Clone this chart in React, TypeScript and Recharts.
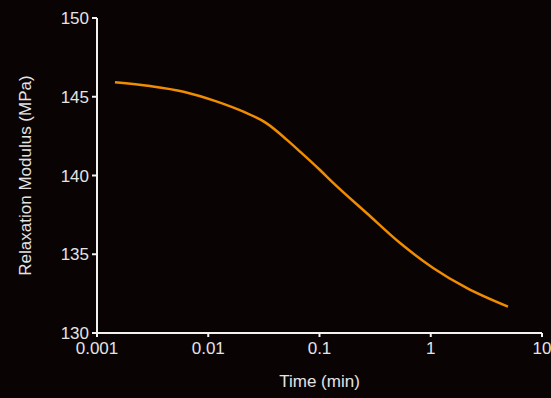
import React from 'react';
import { LineChart, Line, XAxis, YAxis } from 'recharts';

// (log time axis)
const timeMin = [0.00145, 0.003, 0.006, 0.012, 0.0207, 0.0335, 0.0507, 0.0668, 0.101, 0.132, 0.265, 0.53, 1.05, 2.1, 4.94];
const modulusMPa = [145.92, 145.68, 145.32, 144.69, 144.05, 143.31, 142.28, 141.52, 140.35, 139.55, 137.62, 135.71, 134.13, 132.86, 131.67];
const xTicks = [0.001, 0.01, 0.1, 1, 10];
const yTicks = [130, 135, 140, 145, 150];

const data = timeMin.map((t, i) => ({ t, g: modulusMPa[i] }));

const FONT = '"Liberation Sans", Arial, sans-serif';
const TEXT = '#e4e4e4';
const AXIS = '#f2f2f2';

const YLabel = ({ viewBox }: any) => {
  const cy = viewBox.y + viewBox.height / 2;
  return (
    <text x={25} y={cy} transform={`rotate(-90, 25, ${cy})`} textAnchor="middle"
      dominantBaseline="central" fill={TEXT} fontSize={17} fontFamily={FONT}>
      Relaxation Modulus (MPa)
    </text>
  );
};

export default function App() {
  return (
    <div style={{ position: 'absolute', left: 0, top: 0, width: 551, height: 398, background: '#0a0304' }}>
      <LineChart width={551} height={398} data={data} margin={{ top: 18, right: 9, bottom: 0, left: 0 }}>
        <XAxis
          dataKey="t"
          type="number"
          scale="log"
          domain={[0.001, 10]}
          ticks={xTicks}
          tickFormatter={(v: number) => String(v)}
          allowDataOverflow
          height={65}
          stroke={AXIS}
          strokeWidth={2}
          tickSize={4}
          tickMargin={5}
          tick={{ fill: TEXT, fontSize: 17, fontFamily: FONT }}
          label={{ value: 'Time (min)', position: 'insideBottom', offset: 11, fill: TEXT, fontSize: 17, fontFamily: FONT }}
        />
        <YAxis
          type="number"
          domain={[130, 150]}
          ticks={yTicks}
          width={97}
          stroke={AXIS}
          strokeWidth={2}
          tickSize={5}
          tickMargin={3}
          tick={{ fill: TEXT, fontSize: 17, fontFamily: FONT }}
          label={<YLabel />}
        />
        <Line
          type="monotone"
          dataKey="g"
          stroke="#f08c00"
          strokeWidth={2.5}
          dot={false}
          isAnimationActive={false}
        />
      </LineChart>
    </div>
  );
}
